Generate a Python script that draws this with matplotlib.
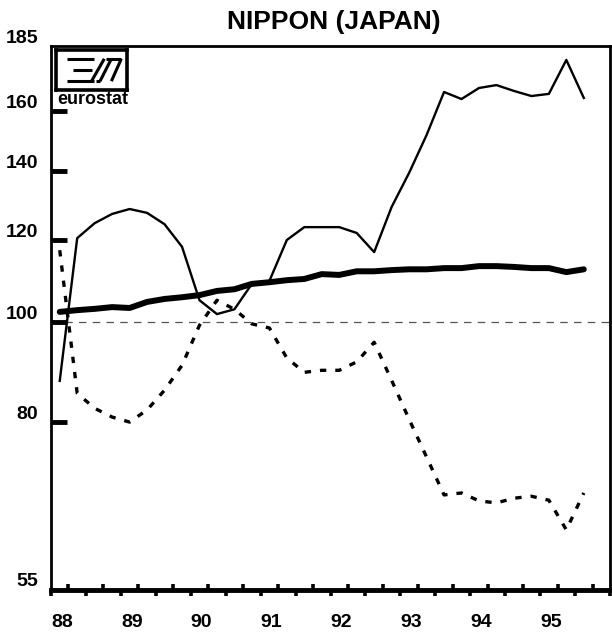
import numpy as np
import matplotlib
matplotlib.use('Agg')
import matplotlib.pyplot as plt
from matplotlib.ticker import FixedLocator, NullLocator, NullFormatter, FuncFormatter
from matplotlib.transforms import blended_transform_factory, ScaledTranslation

plt.rcParams['font.family'] = ['Liberation Sans', 'DejaVu Sans']

# dati trimestrali 1988Q1 - 1995Q3
quarters = np.arange(31)
thin = [87.7, 120.6, 124.7, 127.3, 128.7, 127.6, 124.4, 118.3, 105.0, 101.8, 102.9,
        108.9, 109.6, 120.1, 123.6, 123.6, 123.6, 122.0, 116.9, 129.3, 139.5, 151.8,
        167.1, 164.5, 168.6, 169.7, 167.5, 165.6, 166.4, 179.5, 164.9]
thick = [102.3, 102.7, 103.0, 103.4, 103.2, 104.6, 105.3, 105.7, 106.2, 107.2, 107.6,
         108.9, 109.3, 109.8, 110.1, 111.3, 111.1, 112.0, 112.0, 112.3, 112.5, 112.5,
         112.8, 112.8, 113.3, 113.3, 113.1, 112.8, 112.8, 111.8, 112.5]
dotted = [117.4, 85.3, 82.5, 80.9, 80.0, 82.2, 85.9, 90.8, 99.3, 105.0, 102.9,
          99.6, 98.7, 92.3, 89.4, 89.8, 89.8, 91.5, 95.6, 87.8, 80.5, 74.0,
          68.0, 68.3, 67.1, 66.8, 67.5, 67.8, 67.2, 62.9, 68.3]

years = np.arange(88, 96)
y_marks = [80, 100, 120, 140, 160]
y_labels = [55, 80, 100, 120, 140, 160, 185]

x = 88 + (quarters + 0.5) / 4

fig = plt.figure(figsize=(6.12, 6.35), dpi=100)
ax = fig.add_axes([51/612, 1-590/635, (610-51)/612, (590-46.4)/635])

ax.axhline(100, color='#555555', lw=0.9, dashes=(6, 5), zorder=1)
ax.plot(x, thin, color='black', lw=1.7, zorder=3)
ax.plot(x, thick, color='black', lw=4.3, solid_capstyle='round', zorder=4)
ax.plot(x, dotted, color='black', lw=2.4, dashes=(1.9, 2.7), zorder=2)

ax.set_yscale('log')
ax.set_ylim(55, 185)
ax.set_xlim(88, 96)

# asse y: segni interni, etichette come testo
ax.yaxis.set_major_locator(NullLocator())
ax.yaxis.set_minor_locator(FixedLocator(y_marks))
ax.yaxis.set_minor_formatter(NullFormatter())
ax.tick_params(axis='y', which='minor', direction='in', length=11.5, width=3.5, color='black')
trans = blended_transform_factory(ax.transAxes, ax.transData) + \
    ScaledTranslation(0, 0.08, fig.dpi_scale_trans)
for v in y_labels:
    ax.text(-0.023, v, str(v), transform=trans, ha='right', va='center',
            fontsize=14, fontweight='bold')

# asse x: trimestri alternati
ax.xaxis.set_major_locator(FixedLocator(np.arange(88, 96.01, 0.5)))
ax.xaxis.set_minor_locator(FixedLocator(np.arange(88.25, 96, 0.5)))
ax.xaxis.set_major_formatter(FuncFormatter(
    lambda v, p: str(int(round(v))) if abs(v - round(v)) < 1e-6 and int(round(v)) in years else ''))
ax.tick_params(axis='x', which='major', direction='out', length=4, width=2.6,
               pad=13, labelsize=14)
ax.tick_params(axis='x', which='minor', direction='in', length=4, width=2.6)
for lbl in ax.get_xticklabels():
    lbl.set_ha('left')
    lbl.set_fontweight('bold')

ax.spines['left'].set_linewidth(2)
ax.spines['bottom'].set_linewidth(3.5)
ax.spines['top'].set_linewidth(2)
ax.spines['right'].set_linewidth(2)

fig.text(334/612, 1-22/635, 'NIPPON (JAPAN)', ha='center', va='center',
         fontsize=19, fontweight='bold')

# logo eurostat
lg = fig.add_axes([56/612, 1-90/635, 71/612, 40/635])
lg.set_xlim(0, 1)
lg.set_ylim(0, 1)
lg.set_xticks([])
lg.set_yticks([])
for s in lg.spines.values():
    s.set_linewidth(2.6)
for seg in [((0.16, 0.54), (0.78, 0.78)), ((0.24, 0.50), (0.50, 0.50)),
            ((0.16, 0.54), (0.22, 0.22)), ((0.50, 0.68), (0.22, 0.78)),
            ((0.70, 0.92), (0.78, 0.78)), ((0.62, 0.78), (0.22, 0.78)),
            ((0.78, 0.92), (0.22, 0.78)), ((0.56, 0.62), (0.22, 0.22))]:
    lg.plot(seg[0], seg[1], color='black', lw=2.2, solid_capstyle='butt')
fig.text(57/612, 1-99/635, 'eurostat', ha='left', va='center', fontsize=13,
         fontweight='bold')

fig.savefig('out.png', dpi=100)
